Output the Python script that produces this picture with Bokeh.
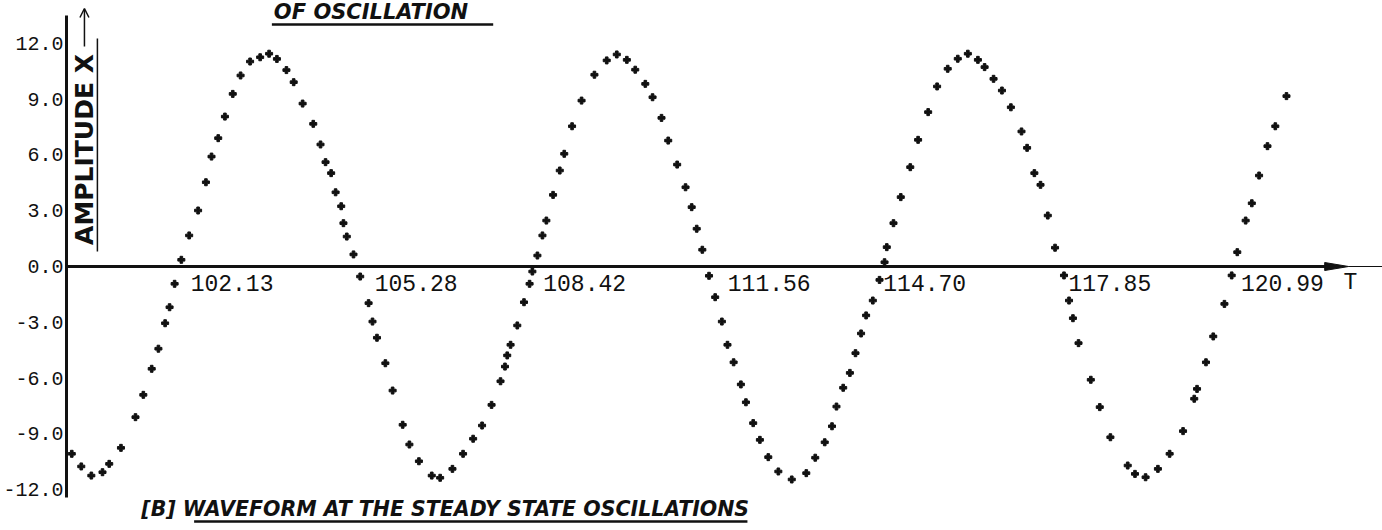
import math

from bokeh.core.properties import value
from bokeh.embed import file_html
from bokeh.models import Arrow, ColumnDataSource, FixedTicker, OpenHead, PrintfTickFormatter, Range1d
from bokeh.plotting import figure
from bokeh.resources import INLINE

# Sampled displacement of the oscillator, steady state
time_t = [
    100.20, 100.37, 100.55, 100.75, 100.87, 101.08, 101.34, 101.48, 101.63, 101.75,
    101.87, 101.95, 102.04, 102.16, 102.30, 102.46, 102.60, 102.70, 102.82, 102.94,
    103.08, 103.22, 103.39, 103.57, 103.73, 103.87, 104.04, 104.17, 104.33, 104.52,
    104.65, 104.74, 104.84, 104.92, 105.02, 105.06, 105.12, 105.24, 105.36, 105.51,
    105.58, 105.66, 105.81, 105.94, 106.12, 106.24, 106.41, 106.64, 106.79, 107.01,
    107.20, 107.38, 107.54, 107.71, 107.87, 107.95, 107.99, 108.05, 108.17, 108.29,
    108.39, 108.44, 108.53, 108.62, 108.69, 108.81, 108.93, 109.01, 109.15, 109.32,
    109.55, 109.77, 109.95, 110.13, 110.28, 110.46, 110.59, 110.75, 110.87, 111.03,
    111.18, 111.29, 111.38, 111.48, 111.60, 111.71, 111.83, 111.93, 112.04, 112.17,
    112.26, 112.39, 112.51, 112.66, 112.84, 113.08, 113.34, 113.50, 113.67, 113.80,
    113.88, 114.00, 114.12, 114.22, 114.32, 114.41, 114.53, 114.65, 114.74, 114.78,
    114.90, 115.03, 115.20, 115.34, 115.52, 115.68, 115.87, 116.05, 116.23, 116.41,
    116.53, 116.69, 116.84, 117.00, 117.19, 117.29, 117.42, 117.53, 117.66, 117.79,
    117.95, 118.04, 118.11, 118.21, 118.43, 118.59, 118.78, 119.09, 119.22, 119.41,
    119.63, 119.84, 120.08, 120.28, 120.33, 120.49, 120.62, 120.82, 120.95, 121.05,
    121.20, 121.31, 121.44, 121.59, 121.73, 121.93,
]
amplitude_x = [
    -10.07, -10.75, -11.24, -11.06, -10.61, -9.75, -8.10, -6.90, -5.50, -4.42,
    -3.05, -2.19, -0.93, 0.36, 1.67, 3.01, 4.53, 5.91, 6.90, 8.06,
    9.28, 10.27, 11.02, 11.25, 11.44, 11.16, 10.56, 9.91, 8.76, 7.67,
    6.56, 5.61, 5.02, 3.99, 3.24, 2.33, 1.61, 0.65, -0.54, -1.97,
    -2.96, -3.83, -5.20, -6.67, -8.51, -9.57, -10.47, -11.24, -11.36, -10.88,
    -10.07, -9.26, -8.55, -7.44, -6.17, -5.38, -4.78, -4.21, -3.17, -1.92,
    -0.93, -0.27, 0.59, 1.67, 2.47, 3.85, 5.16, 6.06, 7.54, 8.92,
    10.31, 11.08, 11.40, 11.11, 10.58, 9.82, 9.10, 7.99, 6.77, 5.48,
    4.26, 3.19, 2.03, 0.90, -0.50, -1.65, -2.96, -4.21, -5.15, -6.34,
    -7.30, -8.42, -9.32, -10.25, -11.02, -11.45, -11.11, -10.28, -9.45, -8.59,
    -7.53, -6.52, -5.72, -4.66, -3.60, -2.63, -1.83, -0.72, 0.23, 1.04,
    2.33, 3.73, 5.34, 6.81, 8.30, 9.68, 10.63, 11.17, 11.44, 11.11,
    10.72, 10.09, 9.46, 8.56, 7.26, 6.38, 5.02, 4.39, 2.74, 1.01,
    -0.48, -1.83, -2.78, -4.12, -6.09, -7.56, -9.18, -10.70, -11.15, -11.33,
    -10.88, -10.07, -8.85, -7.11, -6.58, -5.15, -3.76, -2.01, -0.48, 0.77,
    2.47, 3.40, 4.89, 6.47, 7.54, 9.16,
]

# Zero crossings marked along the time axis
crossing_t = [102.13, 105.28, 108.42, 111.56, 114.70, 117.85, 120.99]
crossing_labels = ["102.13", "105.28", "108.42", "111.56", "114.70", "117.85", "120.99"]

# Amplitude scale
amplitude_ticks = [-12, -9, -6, -3, 0, 3, 6, 9, 12]

y_name = "AMPLITUDE X"
t_name = "T"
caption = "[B] WAVEFORM AT THE STEADY  STATE  OSCILLATIONS"
previous_caption = "OF OSCILLATION"

# ---- page geometry ----------------------------------------------------
W, H = 1382, 530
LEFT = 62                 # y axis sits here
T_PER_PX = 1 / 56.07      # time units per pixel
T_AT_PX0 = 99.0
ZERO_PX = 266             # screen row of X = 0
PX_PER_X = 18.6


def tx(px):
    return T_AT_PX0 + px * T_PER_PX


def ty(py):
    return (ZERO_PX - py) / PX_PER_X


p = figure(
    width=W, height=H,
    x_range=Range1d(tx(LEFT), tx(W)), y_range=Range1d(ty(H), ty(0)),
    output_backend="svg", toolbar_location=None,
    x_axis_location=None, y_axis_location="left",
    min_border_left=LEFT, min_border_right=0, min_border_top=0, min_border_bottom=0,
    outline_line_color=None, background_fill_color="white", border_fill_color="white",
)
p.grid.visible = False

ink = "#111111"
label_font = "Liberation Mono"
hand_font = "DejaVu Sans"

ax = p.yaxis[0]
ax.ticker = FixedTicker(ticks=amplitude_ticks)
ax.formatter = PrintfTickFormatter(format="%.1f")
ax.bounds = (ty(497), ty(15))
ax.axis_line_width = 3
ax.axis_line_color = ink
ax.major_tick_in = 0
ax.major_tick_out = 0
ax.minor_tick_in = 0
ax.minor_tick_out = 0
ax.major_label_standoff = 3
ax.major_label_text_font = label_font
ax.major_label_text_font_size = "20px"
ax.major_label_text_color = ink

# time axis with arrow
p.segment(x0=[tx(LEFT)], y0=[0], x1=[tx(1330)], y1=[0], line_width=3, line_color=ink)
p.patch(x=[tx(1324), tx(1348), tx(1324)], y=[ty(262), 0, ty(270)], color=ink)
p.segment(x0=[tx(1348)], y0=[0], x1=[tx(W)], y1=[0], line_width=1, line_color=ink)

# samples
p.scatter(time_t, amplitude_x, marker="plus", size=7, color=ink)

# crossing labels just past each crossing, under the axis
label_dx = [11, 19, 12, 21, 1, 10, 7]
src = ColumnDataSource(dict(x=crossing_t, y=[0] * len(crossing_t), text=crossing_labels, dx=label_dx))
p.text(x="x", y="y", text="text", x_offset="dx", y_offset=16, source=src,
       text_font=value(label_font), text_font_size="23px", text_color=ink,
       text_align="left", text_baseline="alphabetic")
p.text(x=[tx(1343)], y=[0], text=[t_name], y_offset=16,
       text_font=value(label_font), text_font_size="23px", text_color=ink,
       text_align="left", text_baseline="alphabetic")

# vertical axis name, underlined, with arrow
p.text(x=[tx(80)], y=[ty(149)], text=[y_name], angle=math.pi / 2,
       text_font=value(hand_font), text_font_style="bold", text_font_size="25px",
       text_color=ink, text_align="center", text_baseline="middle")
p.segment(x0=[tx(93)], y0=[ty(251)], x1=[tx(93)], y1=[ty(38)], line_width=1.5, line_color=ink)
p.add_layout(Arrow(end=OpenHead(size=9, line_width=1.5, line_color=ink),
                   x_start=tx(80), y_start=ty(46), x_end=tx(80), y_end=ty(8),
                   line_width=1.5, line_color=ink))

# captions
p.text(x=[tx(270)], y=[ty(11.5)], text=[previous_caption],
       text_font=value(hand_font), text_font_style="bold italic", text_font_size="21px",
       text_color=ink, text_align="left", text_baseline="alphabetic")
p.segment(x0=[tx(268)], y0=[ty(24)], x1=[tx(490)], y1=[ty(24)], line_width=2.5, line_color=ink)

p.text(x=[tx(137)], y=[ty(508)], text=[caption],
       text_font=value(hand_font), text_font_style="bold italic", text_font_size="20.5px",
       text_color=ink, text_align="left", text_baseline="alphabetic")
p.segment(x0=[tx(190)], y0=[ty(521)], x1=[tx(745)], y1=[ty(521)], line_width=2.5, line_color=ink)

open("out.html", "w").write(file_html(p, INLINE))
